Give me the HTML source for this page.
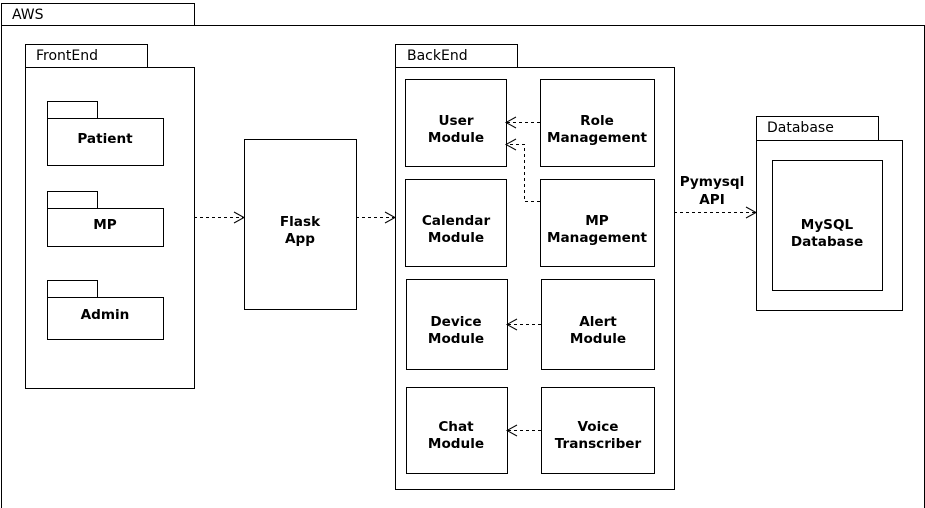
<!DOCTYPE html>
<html><head><style>body{margin:0;background:#fff}svg{display:block}</style></head><body>
<svg width="925" height="508" xmlns="http://www.w3.org/2000/svg" font-family="DejaVu Sans, Verdana, sans-serif" font-size="13">
<g fill="#fff" stroke="#000" stroke-width="1">
<rect x="1.5" y="3.5" width="193" height="22"/>
<rect x="1.5" y="25.5" width="923" height="490"/>
<rect x="25.5" y="44.5" width="122" height="23"/>
<rect x="25.5" y="67.5" width="169" height="321"/>
<rect x="47.5" y="101.5" width="50" height="17"/><rect x="47.5" y="118.5" width="116" height="47"/>
<rect x="47.5" y="191.5" width="50" height="17"/><rect x="47.5" y="208.5" width="116" height="38"/>
<rect x="47.5" y="280.5" width="50" height="17"/><rect x="47.5" y="297.5" width="116" height="42"/>
<rect x="244.5" y="139.5" width="112" height="170"/>
<rect x="395.5" y="44.5" width="122" height="23"/>
<rect x="395.5" y="67.5" width="279" height="422"/>
<rect x="405.5" y="79.5" width="101" height="87"/><rect x="540.5" y="79.5" width="114" height="87"/>
<rect x="405.5" y="179.5" width="101" height="87"/><rect x="540.5" y="179.5" width="114" height="87"/>
<rect x="406.5" y="279.5" width="101" height="90"/><rect x="541.5" y="279.5" width="113" height="90"/>
<rect x="406.5" y="387.5" width="101" height="86"/><rect x="541.5" y="387.5" width="113" height="86"/>
<rect x="756.5" y="116.5" width="122" height="24"/>
<rect x="756.5" y="140.5" width="146" height="170"/>
<rect x="772.5" y="160.5" width="110" height="130"/>
</g>
<g font-size="14">
<text x="12" y="19">AWS</text>
<text x="36" y="60">FrontEnd</text>
<text x="407" y="60">BackEnd</text>
<text x="767" y="132">Database</text>
</g>
<g font-weight="bold" text-anchor="middle" font-size="13.6">
<text x="105" y="143">Patient</text>
<text x="105" y="229">MP</text>
<text x="105" y="319">Admin</text>
<text x="300" y="226">Flask</text><text x="300" y="243">App</text>
<text x="456" y="125">User</text><text x="456" y="142">Module</text>
<text x="597" y="125">Role</text><text x="597" y="142">Management</text>
<text x="456" y="225">Calendar</text><text x="456" y="242">Module</text>
<text x="597" y="225">MP</text><text x="597" y="242">Management</text>
<text x="456" y="326">Device</text><text x="456" y="343">Module</text>
<text x="598" y="326">Alert</text><text x="598" y="343">Module</text>
<text x="456" y="431">Chat</text><text x="456" y="448">Module</text>
<text x="598" y="431">Voice</text><text x="598" y="448">Transcriber</text>
<text x="712" y="186">Pymysql</text><text x="712" y="204">API</text>
<text x="827" y="229">MySQL</text><text x="827" y="246">Database</text>
</g>
<g fill="none" stroke="#000" stroke-width="1" stroke-dasharray="3,3">
<path d="M194 217.5H243"/><path d="M356 217.5H394"/><path d="M674 212.5H755"/>
<path d="M540 122.5H507"/><path d="M540 201.5H524.5V144.5H507"/>
<path d="M541 324.5H508"/><path d="M541 430.5H508"/>
</g>
<g fill="none" stroke="#000" stroke-width="1">
<path d="M234 212L244 217.5L234 223"/><path d="M385 212L395 217.5L385 223"/><path d="M746 207L756 212.5L746 218"/>
<path d="M516 117L506 122.5L516 128"/><path d="M516 139L506 144.5L516 150"/>
<path d="M517 319L507 324.5L517 330"/><path d="M517 425L507 430.5L517 436"/>
</g>
</svg>
</body></html>
